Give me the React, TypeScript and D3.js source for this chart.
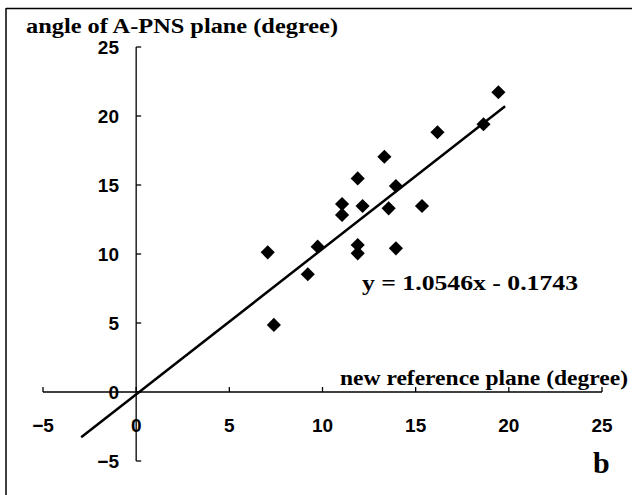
import React from 'react';
import * as d3 from 'd3';

// points (new reference plane, A-PNS angle)
const xValues = [7.06, 7.39, 9.21, 9.74, 11.05, 11.05, 11.89, 11.89, 11.89, 12.15, 13.32, 13.55, 13.94, 13.94, 15.34, 16.17, 18.64, 19.44];
const yValues = [10.12, 4.86, 8.53, 10.53, 13.62, 12.83, 15.48, 10.65, 10.05, 13.48, 17.05, 13.31, 14.93, 10.41, 13.48, 18.82, 19.4, 21.72];
const xTicks = [-5, 0, 5, 10, 15, 20, 25];
const yTicks = [-5, 0, 5, 10, 15, 20, 25];
const slope = 1.0546;
const intercept = -0.1743;
const fitRange = [-2.95, 19.8];

const W = 632;
const H = 495;

export default function App() {
  const x = d3.scaleLinear().domain([-5, 25]).range([43, 602]);
  const y = d3.scaleLinear().domain([-5, 25]).range([461, 47]);

  const diamond = d3.symbol().type(d3.symbolSquare).size(100)();

  const fitLine = d3.line<number>()
    .x(d => x(d))
    .y(d => y(slope * d + intercept));

  const tickFont = '"Liberation Sans", Arial, sans-serif';
  const serif = '"Liberation Serif", "DejaVu Serif", serif';

  return (
    <div style={{ position: 'absolute', left: 0, top: 0 }}>
      <svg width={W} height={H} style={{ display: 'block', background: '#fff' }}>
        {/* frame */}
        <line x1={6} y1={8.5} x2={W} y2={8.5} stroke="#000" strokeWidth={1.5} />
        <line x1={6} y1={8} x2={6} y2={H} stroke="#000" strokeWidth={1.5} />

        {/* y axis */}
        <line x1={x(0)} y1={y(25)} x2={x(0)} y2={y(-5)} stroke="#000" strokeWidth={1.3} />
        {yTicks.map(t => (
          <g key={'y' + t}>
            <line x1={x(0)} y1={y(t)} x2={x(0) + 5} y2={y(t)} stroke="#000" strokeWidth={1.3} />
            <text x={119} y={y(t) + 7} textAnchor="end" fontFamily={tickFont} fontWeight="bold" fontSize={19}>
              {t < 0 ? '\u2212' + Math.abs(t) : t}
            </text>
          </g>
        ))}

        {/* x axis */}
        <line x1={x(-5)} y1={y(0)} x2={x(25)} y2={y(0)} stroke="#000" strokeWidth={1.3} />
        {xTicks.map(t => (
          <g key={'x' + t}>
            <line x1={x(t)} y1={y(0)} x2={x(t)} y2={y(0) - 5} stroke="#000" strokeWidth={1.3} />
            <text x={x(t)} y={432} textAnchor="middle" fontFamily={tickFont} fontWeight="bold" fontSize={19}>
              {t < 0 ? '\u2212' + Math.abs(t) : t}
            </text>
          </g>
        ))}

        {/* regression line */}
        <path d={fitLine(fitRange) || ''} fill="none" stroke="#000" strokeWidth={2.5} />

        {/* points */}
        {xValues.map((v, i) => (
          <path key={i} d={diamond || ''} transform={`translate(${x(v)},${y(yValues[i])}) rotate(45)`} fill="#000" />
        ))}

        {/* texts */}
        <text x={26} y={33} fontFamily={serif} fontWeight="bold" fontSize={20}
          textLength={312} lengthAdjust="spacingAndGlyphs">angle of A-PNS plane (degree)</text>
        <text x={340} y={385} fontFamily={serif} fontWeight="bold" fontSize={20}
          textLength={288} lengthAdjust="spacingAndGlyphs">new reference plane (degree)</text>
        <text x={362} y={290} fontFamily={serif} fontWeight="bold" fontSize={20}
          textLength={216} lengthAdjust="spacingAndGlyphs">y = 1.0546x - 0.1743</text>
        <text x={593} y={473} fontFamily={serif} fontWeight="bold" fontSize={30}>b</text>
      </svg>
    </div>
  );
}
